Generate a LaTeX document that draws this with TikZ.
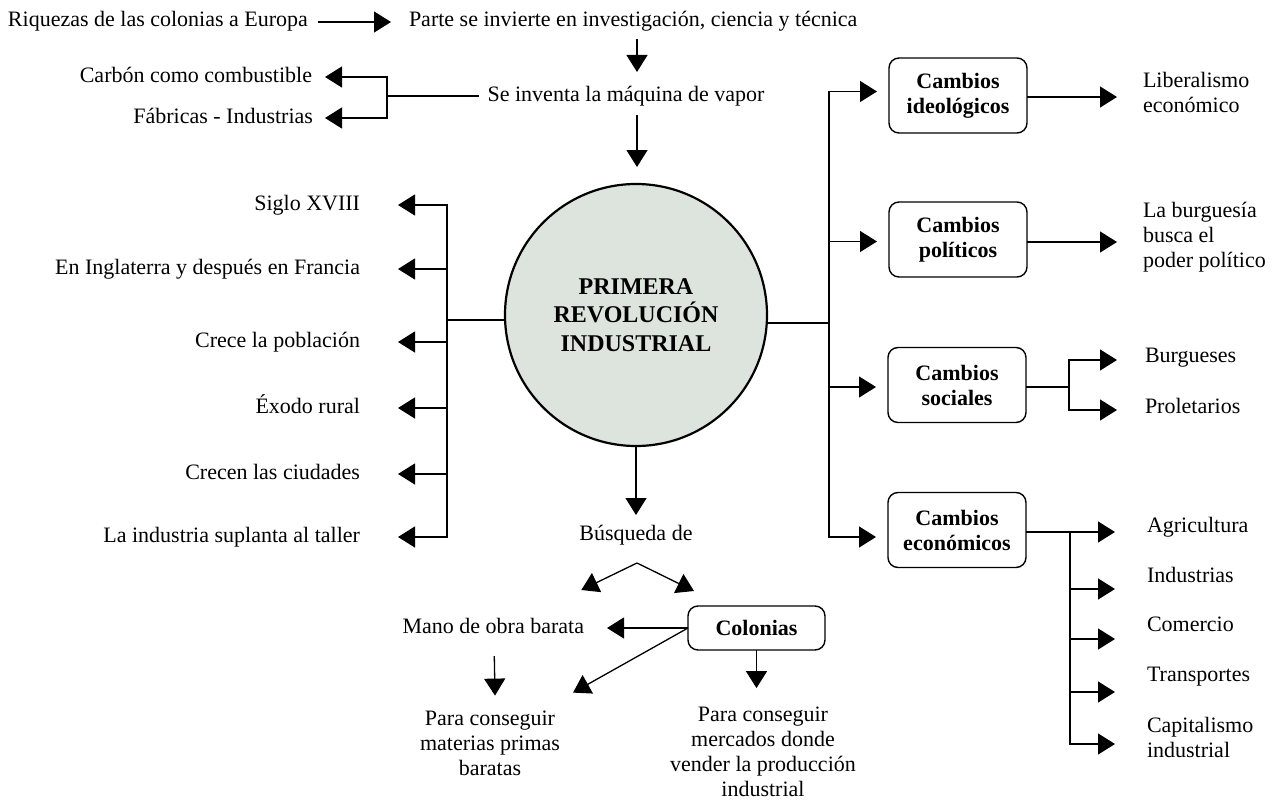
\documentclass[tikz,border=0pt]{standalone}
\usepackage{fontspec}
\setmainfont{Liberation Serif}
\usetikzlibrary{arrows.meta,calc}
\definecolor{circfill}{RGB}{221,228,221}
\begin{document}
\begin{tikzpicture}[x=1pt,y=-1pt,
  every node/.style={inner sep=0pt, outer sep=0pt},
  lbl/.style={font=\fontsize{22}{25}\selectfont, text height=15pt, text depth=5pt},
  mlbl/.style={font=\fontsize{22}{25}\selectfont, align=center},
  mlbll/.style={font=\fontsize{22}{25}\selectfont, align=left, anchor=west},
  cbox/.style={draw, line width=1.4pt, rounded corners=10pt, minimum width=138pt, minimum height=75pt, align=center, font=\fontsize{22}{25}\selectfont\bfseries},
  ln/.style={line width=1.3pt},
  arr/.style={ln, -{Triangle[length=17pt,width=21pt]}},
]
\useasboundingbox (0,0) rectangle (1278,800);
\coordinate (ax) at (637,0);

% top chain
\node[lbl, anchor=west] (riq) at (8,22) {Riquezas de las colonias a Europa};
\node[lbl, anchor=west] (parte) at (409,22) {Parte se invierte en investigación, ciencia y técnica};
\node[lbl] (vapor) at (626,97) {Se inventa la máquina de vapor};
\node[lbl, anchor=east] (carbon) at (312,77) {Carbón como combustible};
\node[lbl, anchor=east] (fab) at (313,118) {Fábricas - Industrias};

\draw[arr] ($(riq.east)+(10,0)$) -- ($(parte.west)+(-18,0)$);
\draw[arr] ($(parte.south -| ax)+(0,7)$) -- ($(vapor.north -| ax)+(0,-15)$);
\coordinate (jV) at (387,96);
\draw[ln] ($(vapor.west)+(-9,-1)$) -- (jV);
\draw[arr] (jV) |- ($(carbon.east)+(13,0)$);
\draw[arr] (jV) |- ($(fab.east)+(12,0)$);

% central circle
\node[circle, draw, line width=2.2pt, fill=circfill, minimum size=262pt, align=center,
      font=\fontsize{24}{28.5}\selectfont\bfseries] (rev) at (636,315)
      {PRIMERA\\REVOLUCIÓN\\INDUSTRIAL};
\draw[arr] ($(vapor.south -| ax)+(0,8)$) -- ($(rev.north -| ax)+(0,-17)$);

% left column
\node[lbl, anchor=east] (siglo) at (360,205) {Siglo XVIII};
\node[lbl, anchor=east] (ingl) at (360,269) {En Inglaterra y después en Francia};
\node[lbl, anchor=east] (pobl) at (360,342) {Crece la población};
\node[lbl, anchor=east] (exodo) at (360,408) {Éxodo rural};
\node[lbl, anchor=east] (ciud) at (360,474) {Crecen las ciudades};
\node[lbl, anchor=east] (taller) at (360,537) {La industria suplanta al taller};
\coordinate (jL) at (447,320);
\draw[ln] (rev.west |- jL) -- (jL);
\foreach \n in {siglo,ingl,pobl,exodo,ciud,taller}
  \draw[arr] (jL) |- ($(\n.east)+(38,0)$);

% right column
\node[cbox] (ideo) at (958,95.5) {Cambios\\ideológicos};
\node[cbox] (poli) at (958,239.5) {Cambios\\políticos};
\node[cbox] (soc) at (957,385) {Cambios\\sociales};
\node[cbox] (eco) at (957,530) {Cambios\\económicos};
\coordinate (jR) at (829,323);
\draw[ln] (rev.east |- jR) -- (jR);
\draw[arr] (jR) |- ($(ideo.west)+(-12,-4)$);
\draw[arr] (jR) |- ($(poli.west)+(-12,2)$);
\draw[arr] (jR) |- ($(soc.west)+(-12,2)$);
\draw[arr] (jR) |- ($(eco.west)+(-12,7)$);

\node[mlbll] (lib) at (1143,92) {Liberalismo\\económico};
\node[mlbll] (burgp) at (1143,237) {La burguesía\\busca el\\poder político};
\coordinate (tipR) at (1117,0);
\draw[arr] ($(ideo.east)+(0,1.5)$) -- ($(ideo.east -| tipR)+(0,1.5)$);
\draw[arr] ($(poli.east)+(0,2.5)$) -- ($(poli.east -| tipR)+(0,2.5)$);

\node[lbl, anchor=west] (burg) at (1145,357) {Burgueses};
\node[lbl, anchor=west] (prol) at (1145,408) {Proletarios};
\coordinate (jS) at (1069,387);
\draw[ln] ($(soc.east)+(0,2)$) -- (jS);
\draw[arr] (jS) |- ($(burg.west)+(-28,3)$);
\draw[arr] (jS) |- ($(prol.west)+(-28,2)$);

\node[lbl, anchor=west] (agr) at (1147,527) {Agricultura};
\node[lbl, anchor=west] (ind) at (1147,577) {Industrias};
\node[lbl, anchor=west] (com) at (1147,626) {Comercio};
\node[lbl, anchor=west] (tra) at (1147,676) {Transportes};
\node[mlbll] (cap) at (1147,737) {Capitalismo\\industrial};
\coordinate (jE) at (1070,532);
\draw[arr] ($(eco.east)+(0,2)$) -- ($(agr.west)+(-32,5)$);
\draw[arr] (jE) |- ($(ind.west)+(-32,12)$);
\draw[arr] (jE) |- ($(com.west)+(-32,13)$);
\draw[arr] (jE) |- ($(tra.west)+(-32,16)$);
\draw[arr] (jE) |- ($(cap.west)+(-32,7)$);

% bottom
\node[lbl] (busq) at (636,535) {Búsqueda de};
\draw[arr] (rev.south) -- ($(busq.north)+(0,-10)$);
\node[cbox, minimum width=137pt, minimum height=44pt] (col) at (756.5,628) {Colonias};
\node[lbl, anchor=east] (mano) at (584,628) {Mano de obra barata};
\coordinate (apex) at ($(busq.south)+(1,18)$);
\draw[arr] (apex) -- ($(mano.north)+(88,-28)$);
\draw[arr] (apex) -- ($(col.north west)+(6,-15)$);
\draw[arr] (col.west) -- ($(mano.east)+(23,0)$);

\node[mlbl] (mat) at (490,743) {Para conseguir\\materias primas\\baratas};
\node[mlbl] (mer) at (763,752) {Para conseguir\\mercados donde\\vender la producción\\industrial};
\draw[arr] (col.west) -- ($(mat.north)+(83,-18)$);
\draw[arr] ($(mano.south)+(1,18)$) -- ($(mat.north)+(5,-15)$);
\draw[arr] (col.south) -- ($(mer.north -| col.south)+(0,-19)$);
\end{tikzpicture}
\end{document}
